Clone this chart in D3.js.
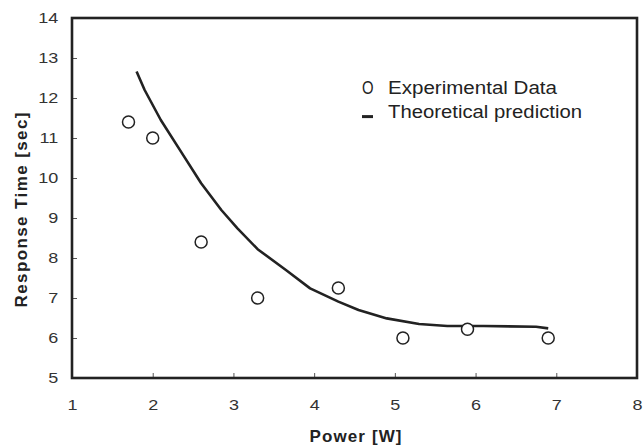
<!DOCTYPE html>
<html>
<head>
<meta charset="utf-8">
<script src="https://cdn.jsdelivr.net/npm/d3@7"></script>
<style>
  body { margin: 0; background: #fff; }
  text { font-family: "Liberation Sans", Arial, sans-serif; }
</style>
</head>
<body>
<div id="chart"></div>
<script>
// experimental points
var powerExp = [1.7, 2.0, 2.6, 3.3, 4.3, 5.1, 5.9, 6.9];
var timeExp  = [11.4, 11.0, 8.4, 7.0, 7.25, 6.0, 6.22, 6.0];

// theoretical curve
var powerTheory = [1.8, 1.9, 2.1, 2.35, 2.6, 2.85, 3.05, 3.3, 3.65, 3.95, 4.3, 4.55, 4.9, 5.3, 5.65, 6.1, 6.75, 6.9];
var timeTheory  = [12.66, 12.2, 11.45, 10.66, 9.87, 9.2, 8.74, 8.22, 7.7, 7.24, 6.91, 6.7, 6.49, 6.35, 6.3, 6.3, 6.28, 6.24];

var xTicks = [1, 2, 3, 4, 5, 6, 7, 8];
var yTicks = [5, 6, 7, 8, 9, 10, 11, 12, 13, 14];

var margin = {top: 18, right: 7, bottom: 68, left: 72},
    width = 644 - margin.left - margin.right,
    height = 446 - margin.top - margin.bottom;

var svg = d3.select("#chart")
  .append("svg")
    .attr("width", 644)
    .attr("height", 446)
  .append("g")
    .attr("transform", "translate(" + margin.left + "," + margin.top + ")");

var x = d3.scaleLinear()
  .domain([1, 8])
  .range([0, width]);

var y = d3.scaleLinear()
  .domain([5, 14])
  .range([height, 0]);

// axes: thin inward ticks, labels a bit wide like the original
var xAxis = svg.append("g")
  .attr("transform", "translate(0," + height + ")")
  .call(d3.axisBottom(x).tickValues(xTicks).tickSize(-5).tickPadding(21).tickFormat(d3.format("d")));
xAxis.select(".domain").remove();
xAxis.selectAll("line").attr("stroke", "#555").attr("stroke-width", 1);
xAxis.selectAll("text")
  .attr("font-size", 15)
  .attr("fill", "#333")
  .attr("transform", "scale(1.2,1)");

var yAxis = svg.append("g")
  .call(d3.axisLeft(y).tickValues(yTicks).tickSize(-5).tickPadding(11.5).tickFormat(d3.format("d")));
yAxis.select(".domain").remove();
yAxis.selectAll("line").attr("stroke", "#555").attr("stroke-width", 1);
yAxis.selectAll("text")
  .attr("font-size", 15)
  .attr("fill", "#333")
  .attr("transform", "scale(1.2,1)");

// frame
svg.append("rect")
  .attr("x", 0)
  .attr("y", 0)
  .attr("width", width)
  .attr("height", height)
  .attr("fill", "none")
  .attr("stroke", "#222")
  .attr("stroke-width", 2.6);

// theoretical line
var line = d3.line()
  .x(function(d, i) { return x(powerTheory[i]); })
  .y(function(d, i) { return y(timeTheory[i]); });

svg.append("path")
  .datum(powerTheory)
  .attr("d", line)
  .attr("fill", "none")
  .attr("stroke", "#222")
  .attr("stroke-width", 2.6)
  .attr("stroke-linejoin", "round");

// experimental circles
svg.selectAll("circle.exp")
  .data(powerExp)
  .enter()
  .append("circle")
    .attr("class", "exp")
    .attr("cx", function(d) { return x(d); })
    .attr("cy", function(d, i) { return y(timeExp[i]); })
    .attr("r", 6)
    .attr("fill", "#fff")
    .attr("stroke", "#222")
    .attr("stroke-width", 1.5);

// axis titles
svg.append("text")
  .attr("x", 283.5)
  .attr("y", height + 64)
  .attr("text-anchor", "middle")
  .attr("font-size", 17)
  .attr("font-weight", "bold")
  .attr("fill", "#222")
  .attr("textLength", 92)
  .attr("lengthAdjust", "spacing")
  .text("Power [W]");

svg.append("text")
  .attr("transform", "translate(-45," + (210 - margin.top) + ")rotate(-90)")
  .attr("text-anchor", "middle")
  .attr("font-size", 17)
  .attr("font-weight", "bold")
  .attr("fill", "#222")
  .attr("textLength", 195)
  .attr("lengthAdjust", "spacing")
  .text("Response Time [sec]");

// legend
var legend = svg.append("g")
  .attr("transform", "translate(" + (362 - margin.left) + "," + (94.3 - margin.top) + ")");

legend.append("text")
  .attr("x", 0)
  .attr("y", 0)
  .attr("font-size", 17.5)
  .attr("fill", "#222")
  .attr("transform", "scale(0.85,1)")
  .text("O");

legend.append("text")
  .attr("x", 26)
  .attr("y", 0)
  .attr("font-size", 17.5)
  .attr("fill", "#222")
  .attr("textLength", 169)
  .attr("lengthAdjust", "spacingAndGlyphs")
  .text("Experimental Data");

legend.append("line")
  .attr("x1", 0)
  .attr("x2", 11)
  .attr("y1", 22.3)
  .attr("y2", 22.3)
  .attr("stroke", "#222")
  .attr("stroke-width", 3);

legend.append("text")
  .attr("x", 26)
  .attr("y", 24.2)
  .attr("font-size", 17.5)
  .attr("fill", "#222")
  .attr("textLength", 194)
  .attr("lengthAdjust", "spacingAndGlyphs")
  .text("Theoretical prediction");
</script>
</body>
</html>
